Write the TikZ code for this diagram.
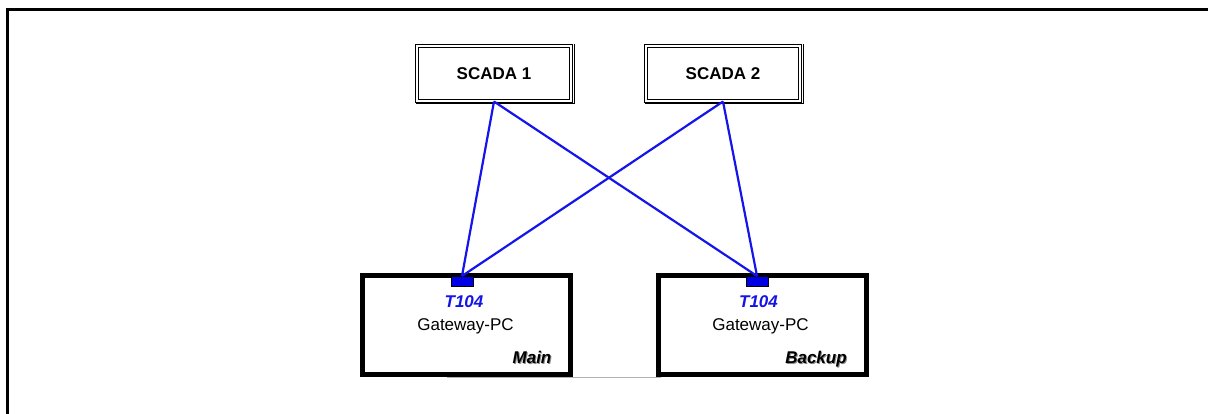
\documentclass[tikz,border=0pt]{standalone}
\usepackage{fontspec}
\setmainfont{Liberation Sans}
\usetikzlibrary{calc}
\definecolor{linkblue}{RGB}{20,20,235}
\definecolor{portblue}{RGB}{0,0,230}
\definecolor{t104blue}{RGB}{20,20,230}
\tikzset{
  scadabox/.style={draw=black, line width=1pt, double=white, double distance=2pt,
    minimum width=154pt, minimum height=55pt, inner sep=0pt,
    font=\fontsize{17}{20}\selectfont\bfseries},
  gwbox/.style={draw=black, line width=5pt, minimum width=208pt, minimum height=99pt, inner sep=0pt},
  portbox/.style={draw=black, fill=portblue, line width=1pt, minimum width=22pt, minimum height=10pt, inner sep=0pt},
  link/.style={draw=linkblue, line width=2.2pt},
  baseline/.style={draw=gray!60, line width=1pt},
  gwtxt/.style={font=\fontsize{17}{20}\selectfont, anchor=base, inner sep=0pt},
  t104txt/.style={font=\fontsize{17}{20}\selectfont\bfseries\itshape, text=t104blue, anchor=base, inner sep=0pt},
  roletxt/.style={font=\fontsize{17}{20}\selectfont\bfseries\itshape, anchor=base, inner sep=0pt},
}
\begin{document}
\begin{tikzpicture}[x=1pt, y=-1pt]
\useasboundingbox (0,0) rectangle (1208,414);
% frame
\draw[line width=3pt] (7.5,414) -- (7.5,9.5) -- (1208,9.5);
% SCADA boxes
\node[scadabox] (scada1) at (494,73.5) {SCADA 1};
\node[scadabox] (scada2) at (723,73.5) {SCADA 2};
\foreach \s in {scada1,scada2}{
  \draw[line width=1pt] ($(\s.north east)+(2.5,-1)$) -- ($(\s.south east)+(2.5,2.5)$) -- ($(\s.south west)+(-1,2.5)$);
}
% gateway boxes
\node[gwbox] (main) at (466.5,325) {};
\node[gwbox] (backup) at (762,325) {};
% gray bottom line between the gateways
\draw[baseline] ([shift={(-19.5pt,-0.5pt)}]main.south) -- ([shift={(5pt,-0.5pt)}]backup.south west);
% ports
\node[portbox] (mainport) at (462,281.5) {};
\node[portbox] (backupport) at (757,281.5) {};
% links
\draw[link] (scada1.south) -- (mainport.north);
\draw[link] (scada1.south) -- (backupport.north);
\draw[link] (scada2.south) -- (mainport.north);
\draw[link] (scada2.south) -- (backupport.north);
% texts
\node[t104txt] (t1) at (464,308) {T104};
\node[gwtxt] (g1) at (465.5,330) {Gateway-PC};
\node[roletxt, text=black!45] at (533,364) {Main};
\node[roletxt] (r1) at (532,363) {Main};
\node[t104txt] (t2) at (758.5,308) {T104};
\node[gwtxt] (g2) at (760.5,330) {Gateway-PC};
\node[roletxt, text=black!45] at (817,364) {Backup};
\node[roletxt] (r2) at (816,363) {Backup};
\end{tikzpicture}
\end{document}
